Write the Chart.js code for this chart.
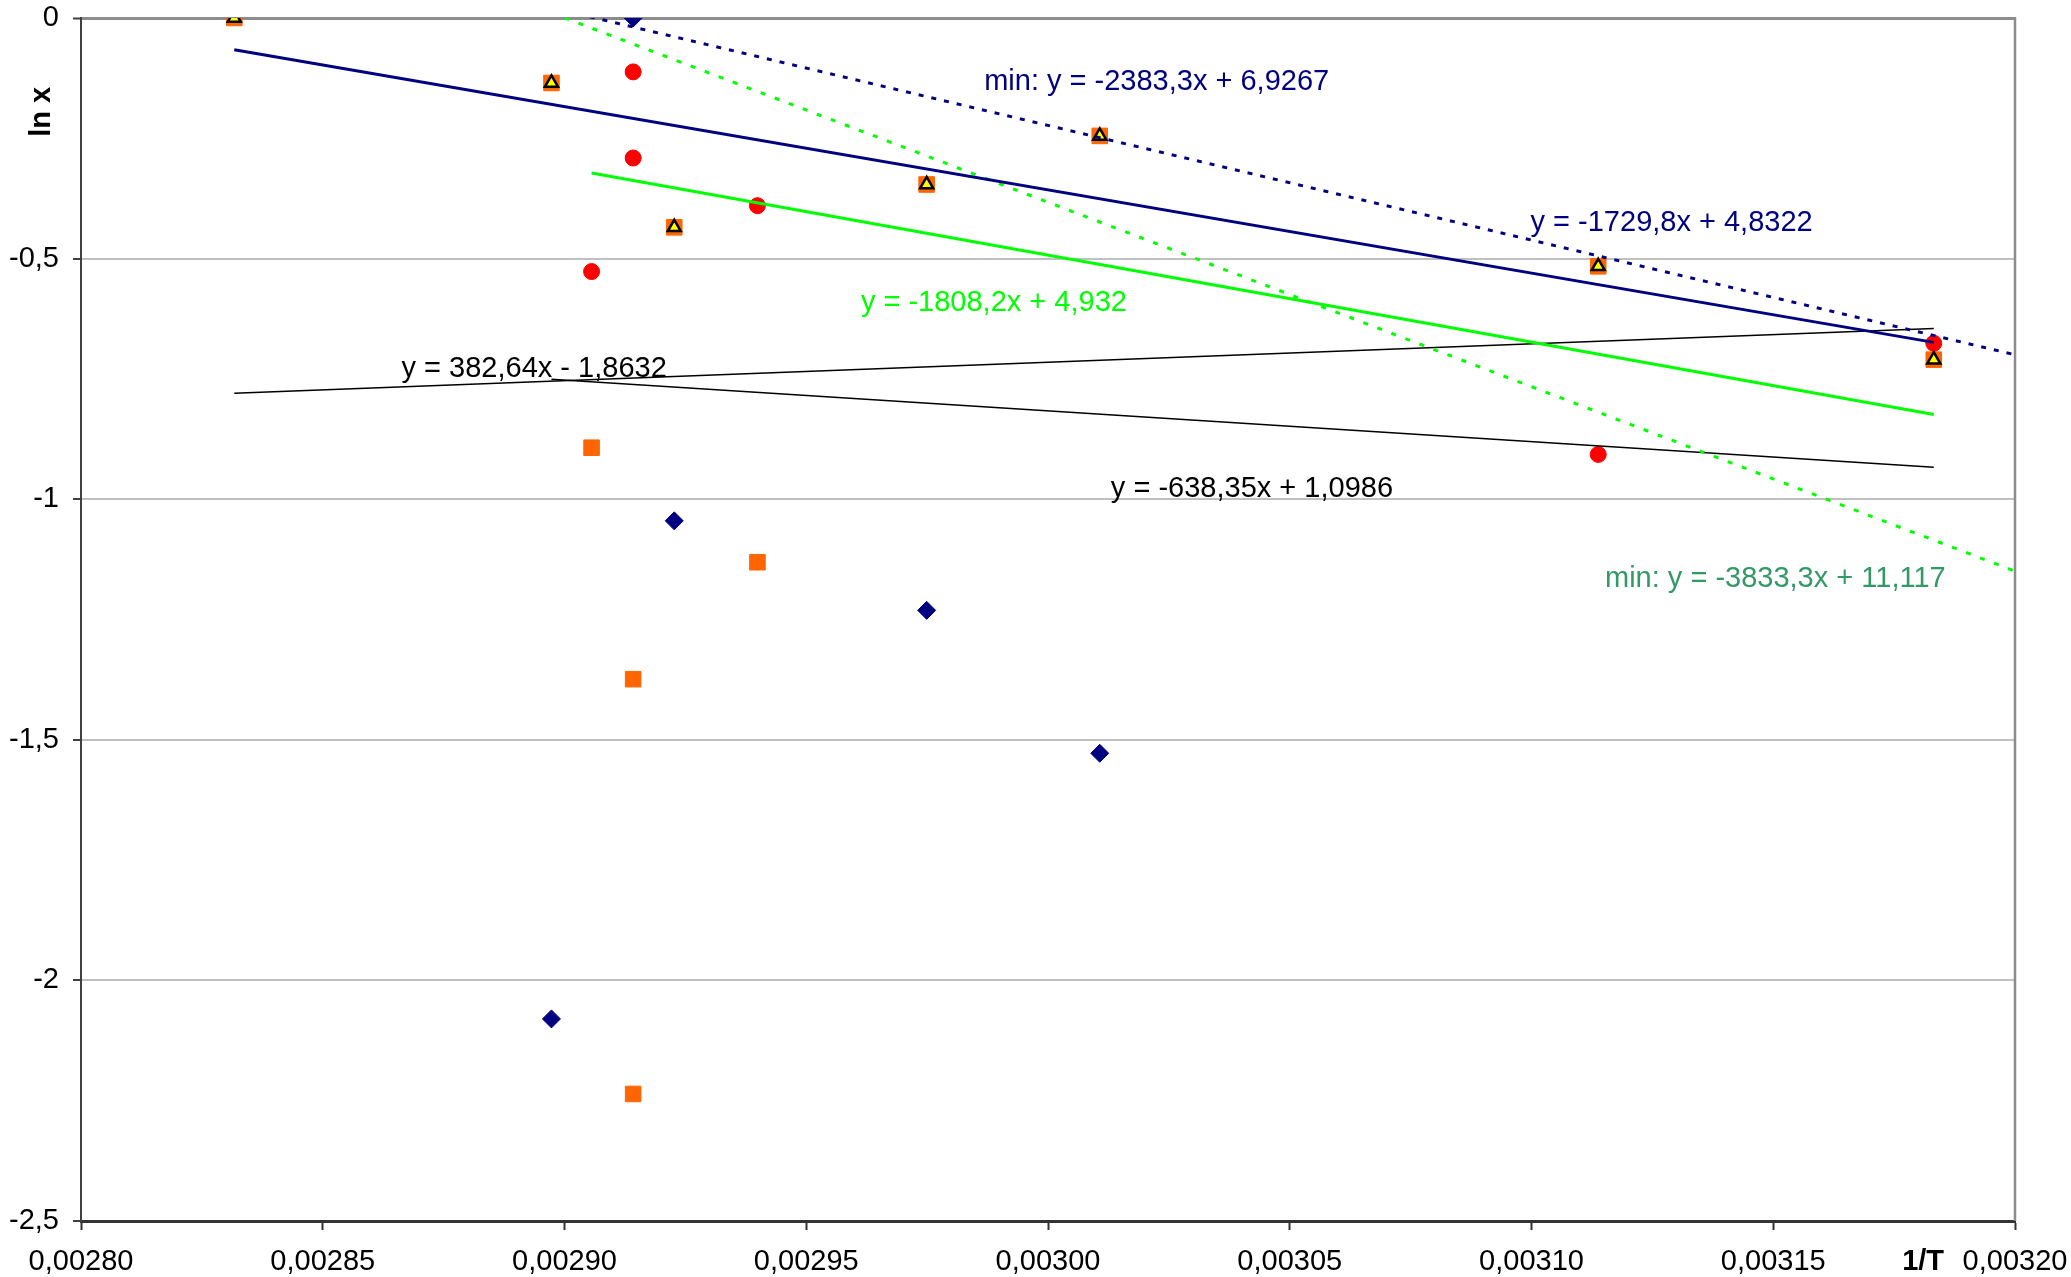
<!DOCTYPE html>
<html>
<head>
<meta charset="utf-8">
<title>ln x vs 1/T</title>
<script src="https://cdn.jsdelivr.net/npm/chart.js@4/dist/chart.umd.min.js"></script>
<style>
  html, body { margin: 0; padding: 0; background: #ffffff; }
  #wrap { width: 2071px; height: 1277px; }
</style>
</head>
<body>
<div id="wrap"><canvas id="chart" width="2071" height="1277"></canvas></div>
<script>
// ---- measured points: 1/T (1/K) and ln x ----
const diamondX = [0.0029142, 0.0029227, 0.0028973, 0.0029749, 0.0030107];
const diamondY = [0, -1.045, -2.080, -1.231, -1.528];

const squareX = [0.0028317, 0.0028973, 0.0029056, 0.0029142, 0.0029142, 0.0029227, 0.0029399, 0.0029749, 0.0030107, 0.0031138, 0.0031832];
const squareY = [0, -0.135, -0.893, -1.374, -2.236, -0.435, -1.131, -0.346, -0.245, -0.516, -0.710];

const circleX = [0.0029142, 0.0029142, 0.0029056, 0.0029399, 0.0031138, 0.0031832];
const circleY = [-0.112, -0.291, -0.527, -0.390, -0.907, -0.676];

const triangleX = [0.0028317, 0.0028973, 0.0029227, 0.0029749, 0.0030107, 0.0031138, 0.0031832];
const triangleY = [0, -0.135, -0.435, -0.346, -0.245, -0.516, -0.710];

// ---- linear fits y = a*x + b and the 1/T range each one covers ----
const fitSlopes     = [-1729.8, -2383.3, -1808.2, -3833.3, 382.64, -638.35];
const fitIntercepts = [4.8322, 6.9267, 4.932, 11.117, -1.8632, 1.0986];
const fitFrom       = [0.0028317, 0.0029, 0.0029056, 0.0029, 0.0028317, 0.0028973];
const fitTo         = [0.0031832, 0.0032, 0.0031832, 0.0032, 0.0031832, 0.0031832];
const fitLabels     = [
  'y = -1729,8x + 4,8322',
  'min: y = -2383,3x + 6,9267',
  'y = -1808,2x + 4,932',
  'min: y = -3833,3x + 11,117',
  'y = 382,64x - 1,8632',
  'y = -638,35x + 1,0986'
];

// ---- axis ticks ----
const xTickMin = 0.0028, xTickMax = 0.0032, xTickStep = 0.00005;
const yTickMin = -2.5, yTickMax = 0, yTickStep = 0.5;

// ---- styling ----
const FONT = '"Liberation Sans", Arial, Helvetica, sans-serif';
const FONT_SIZE = 29;
const fitStyles = [
  { color: '#000080', width: 3, dash: [] },
  { color: '#000080', width: 3, dash: [5, 8] },
  { color: '#00FF00', width: 3, dash: [] },
  { color: '#00FF00', width: 3, dash: [5, 10] },
  { color: '#000000', width: 1.5, dash: [] },
  { color: '#000000', width: 1.5, dash: [] }
];
const fitLabelStyles = [
  { color: '#000080', at: [0.0030998, -0.4261] },
  { color: '#000080', at: [0.0029868, -0.1332] },
  { color: '#00FF00', at: [0.0029613, -0.5926] },
  { color: '#339966', at: [0.0031152, -1.1663] },
  { color: '#000000', at: [0.0028663, -0.7297] },
  { color: '#000000', at: [0.0030130, -0.9784] }
];

const toPoints = (xs, ys) => xs.map((x, i) => ({ x: x, y: ys[i] }));

const fitDatasets = fitSlopes.map((a, i) => ({
  type: 'scatter',
  label: fitLabels[i],
  data: [fitFrom[i], fitTo[i]].map(x => ({ x: x, y: a * x + fitIntercepts[i] })),
  showLine: true,
  borderColor: fitStyles[i].color,
  borderWidth: fitStyles[i].width,
  borderDash: fitStyles[i].dash,
  pointRadius: 0,
  fill: false,
  order: 0
}));

const markerDatasets = [
  {
    label: 'triangles',
    data: toPoints(triangleX, triangleY),
    pointStyle: 'triangle', pointRadius: 7.5,
    backgroundColor: '#FFFF00', borderColor: '#000000', borderWidth: 2.5,
    order: 1
  },
  {
    label: 'circles',
    data: toPoints(circleX, circleY),
    pointStyle: 'circle', pointRadius: 8,
    backgroundColor: '#FF0000', borderColor: '#FF0000', borderWidth: 1,
    order: 2
  },
  {
    label: 'squares',
    data: toPoints(squareX, squareY),
    pointStyle: 'rect', pointRadius: 11,
    backgroundColor: '#FF6600', borderColor: '#FF6600', borderWidth: 1,
    order: 3
  },
  {
    label: 'diamonds',
    data: toPoints(diamondX, diamondY),
    pointStyle: 'rectRot', pointRadius: 9,
    backgroundColor: '#000080', borderColor: '#000080', borderWidth: 1,
    order: 4
  }
];

// Frame, axis titles and fit equations
const decorations = {
  id: 'decorations',
  afterDatasetsDraw(chart) {
    const { ctx, chartArea, scales } = chart;
    const xs = scales.x, ys = scales.y;
    ctx.save();
    // right edge of the plot frame
    ctx.strokeStyle = '#8c8c8c';
    ctx.lineWidth = 2.5;
    ctx.beginPath();
    ctx.moveTo(chartArea.right, chartArea.top - 1);
    ctx.lineTo(chartArea.right, chartArea.bottom);
    ctx.stroke();

    // fit equations
    ctx.font = FONT_SIZE + 'px ' + FONT;
    ctx.textAlign = 'left';
    ctx.textBaseline = 'middle';
    fitLabels.forEach((txt, i) => {
      const s = fitLabelStyles[i];
      ctx.fillStyle = s.color;
      ctx.fillText(txt, xs.getPixelForValue(s.at[0]), ys.getPixelForValue(s.at[1]));
    });

    // axis titles
    ctx.fillStyle = '#000000';
    ctx.font = 'bold ' + FONT_SIZE + 'px ' + FONT;
    ctx.textAlign = 'center';
    ctx.fillText('1/T', xs.getPixelForValue(0.003181), chartArea.bottom + 41);
    ctx.translate(chartArea.left - 39, ys.getPixelForValue(-0.195));
    ctx.rotate(-Math.PI / 2);
    ctx.fillText('ln x', 0, 0);
    ctx.restore();
  }
};

new Chart(document.getElementById('chart'), {
  type: 'scatter',
  data: { datasets: fitDatasets.concat(markerDatasets) },
  options: {
    responsive: false,
    animation: false,
    devicePixelRatio: 1,
    layout: { padding: { top: 18, right: 56, left: 0, bottom: 0 } },
    plugins: { legend: { display: false }, tooltip: { enabled: false } },
    scales: {
      x: {
        type: 'linear',
        min: xTickMin, max: xTickMax,
        afterFit(scale) {
          scale.height = 56;
          scale.paddingLeft = 0; scale.paddingRight = 0;
          scale.paddingTop = 0; scale.paddingBottom = 0;
        },
        ticks: {
          stepSize: xTickStep,
          autoSkip: false, maxRotation: 0, minRotation: 0,
          padding: 15,
          color: '#000000',
          font: { family: FONT, size: FONT_SIZE },
          callback: v => Number(v).toFixed(5).replace('.', ',')
        },
        grid: {
          drawOnChartArea: false, drawTicks: true,
          tickLength: 9, tickColor: '#333333', tickWidth: 2
        },
        border: { display: true, color: '#333333', width: 3 }
      },
      y: {
        type: 'linear',
        min: yTickMin, max: yTickMax,
        afterFit(scale) {
          scale.width = 81;
          scale.paddingLeft = 0; scale.paddingRight = 0;
          scale.paddingTop = 0; scale.paddingBottom = 0;
        },
        ticks: {
          stepSize: yTickStep,
          padding: 14,
          color: '#000000',
          font: { family: FONT, size: FONT_SIZE },
          callback: v => String(Math.round(v * 10) / 10).replace('.', ',')
        },
        grid: {
          drawTicks: true, tickLength: 8, tickColor: '#404040', tickWidth: 2,
          color: c => (c.tick && c.tick.value === 0) ? '#8c8c8c' : '#c0c0c0',
          lineWidth: c => (c.tick && c.tick.value === 0) ? 3 : 2
        },
        border: { display: true, color: '#404040', width: 2 }
      }
    }
  },
  plugins: [decorations]
});
</script>
</body>
</html>
